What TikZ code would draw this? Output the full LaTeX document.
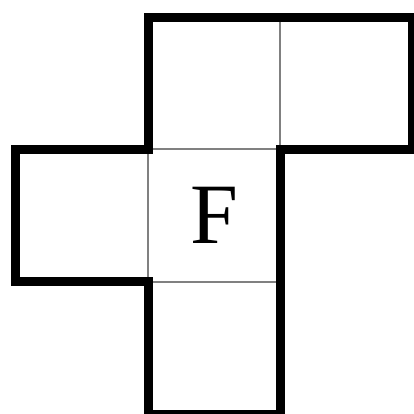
\documentclass[tikz,border=0pt]{standalone}
\usepackage{amsmath, amssymb}
\usepackage{fontspec}
\setmainfont{Liberation Serif}

\begin{document}
\begin{tikzpicture}
    \useasboundingbox (-0.12,0) rectangle (3.01,3.13);
    % inner fold lines of the net
    \draw[gray, line width=0.45pt] (2,3) -- (2,2);
    \draw[gray, line width=0.45pt] (1,2) -- (2,2);
    \draw[gray, line width=0.45pt] (1,2) -- (1,1);
    \draw[gray, line width=0.45pt] (1,1) -- (2,1);
    % outline
    \draw[line width=1.9pt, line join=miter] (1,3) -- (3,3) -- (3,2) -- (2,2) -- (2,0) -- (1,0) -- (1,1) -- (0,1) -- (0,2) -- (1,2) -- cycle;
    \node[font=\fontsize{18.5}{20}\selectfont] (front) at (1.5,1.5) {F};
\end{tikzpicture}
\end{document}
